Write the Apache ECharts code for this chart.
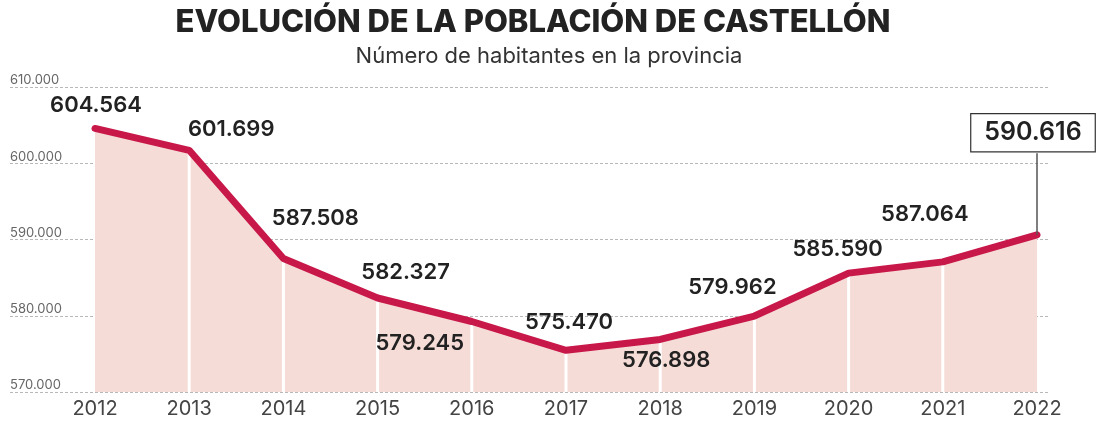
<!DOCTYPE html>
<html>
<head>
<meta charset="utf-8">
<script src="https://cdn.jsdelivr.net/npm/echarts@6/dist/echarts.min.js"></script>
<style>html,body{margin:0;padding:0;background:#fff}#c{width:1105px;height:428px}</style>
</head>
<body>
<div id="c"></div>
<script>
const years = ['2012','2013','2014','2015','2016','2017','2018','2019','2020','2021','2022'];
const population = [604564, 601699, 587508, 582327, 579245, 575470, 576898, 579962, 585590, 587064, 590616];
const yTicks = [570000, 580000, 590000, 600000, 610000];
const titleText = 'EVOLUCIÓN DE LA POBLACIÓN DE CASTELLÓN';
const subtitleText = 'Número de habitantes en la provincia';

// label placement (style only)
const labelOffsets = [[1,-23],[42,-21],[32,-40],[28,-26],[-52,22],[3,-28],[6,21],[-22,-29],[-11,-24],[-18,-47],[-4,-102]];

const fmt = v => String(v).replace(/\B(?=(\d{3})+(?!\d))/g, '.');
const FONT = 'Inter, "Noto Sans", sans-serif';
const yMin = yTicks[0], yMax = yTicks[yTicks.length-1], yStep = yTicks[1]-yTicks[0];
const lastIdx = years.length - 1;

const lineData = population.map((v, i) => {
  const item = {value: v, label: {show: true, offset: labelOffsets[i]}};
  if (i === lastIdx) {
    item.label = {
      show: true, offset: labelOffsets[i], fontSize: 25, fontWeight: 600,
      borderColor: '#333', borderWidth: 1.2, backgroundColor: '#fff',
      padding: [6, 13, 6, 13]
    };
  }
  return item;
});
const whiteLines = population.map((v, i) => (i === 0 || i === lastIdx) ? null : v);

const chart = echarts.init(document.getElementById('c'), null, {renderer: 'canvas'});
chart.setOption({
  animation: false,
  backgroundColor: '#fff',
  textStyle: {fontFamily: FONT},
  title: [
    {text: titleText, left: 528, top: 2, textAlign: 'center',
     textStyle: {fontFamily: FONT, fontSize: 31, fontWeight: 800, color: '#222'}},
    {text: subtitleText, left: 544, top: 40, textAlign: 'center',
     textStyle: {fontFamily: FONT, fontSize: 22, fontWeight: 400, color: '#333'}}
  ],
  grid: [
    {left: 10, right: 57, top: 87, bottom: 36},
    {left: 95, right: 68, top: 87, bottom: 36}
  ],
  xAxis: [
    {gridIndex: 0, type: 'value', show: false, min: 0, max: 1},
    {gridIndex: 1, type: 'category', data: years, boundaryGap: false,
     axisLine: {show: false}, axisTick: {show: false},
     axisLabel: {color: '#444', fontSize: 20, margin: 7, fontFamily: FONT}}
  ],
  yAxis: [
    {gridIndex: 0, type: 'value', min: yMin, max: yMax, interval: yStep,
     axisLine: {show: false}, axisTick: {show: false},
     splitLine: {show: true, lineStyle: {color: '#b8b8b8', type: [3, 2], width: 1}},
     axisLabel: {inside: true, margin: 0, verticalAlign: 'bottom', color: '#666', fontSize: 13,
                 lineHeight: 13, formatter: v => fmt(v)}},
    {gridIndex: 1, type: 'value', min: yMin, max: yMax, interval: yStep, show: false,
     splitLine: {show: false}}
  ],
  series: [
    {type: 'line', xAxisIndex: 1, yAxisIndex: 1, data: population, symbol: 'none',
     lineStyle: {width: 0}, areaStyle: {color: '#f6dcd7', opacity: 1}, z: 1, silent: true},
    {type: 'bar', xAxisIndex: 1, yAxisIndex: 1, data: whiteLines, barWidth: 3,
     itemStyle: {color: '#ffffff'}, z: 2, silent: true},
    {type: 'line', xAxisIndex: 1, yAxisIndex: 1, data: lineData, symbol: 'circle', symbolSize: 1,
     showSymbol: true, showAllSymbol: true, itemStyle: {color: '#c8184a'}, z: 4,
     lineStyle: {width: 7, color: '#c8184a', cap: 'round', join: 'round'},
     label: {show: true, position: 'inside', align: 'center', verticalAlign: 'middle',
             fontFamily: FONT, fontSize: 22, fontWeight: 600, color: '#222',
             formatter: p => fmt(p.value)},
     markLine: {silent: true, symbol: 'none', label: {show: false},
       lineStyle: {color: '#555', width: 1.5, type: 'solid'},
       data: [[{coord: [years[lastIdx], population[lastIdx]]},
               {coord: [years[lastIdx], population[lastIdx] + 10700]}]]}
    }
  ]
});
</script>
</body>
</html>
